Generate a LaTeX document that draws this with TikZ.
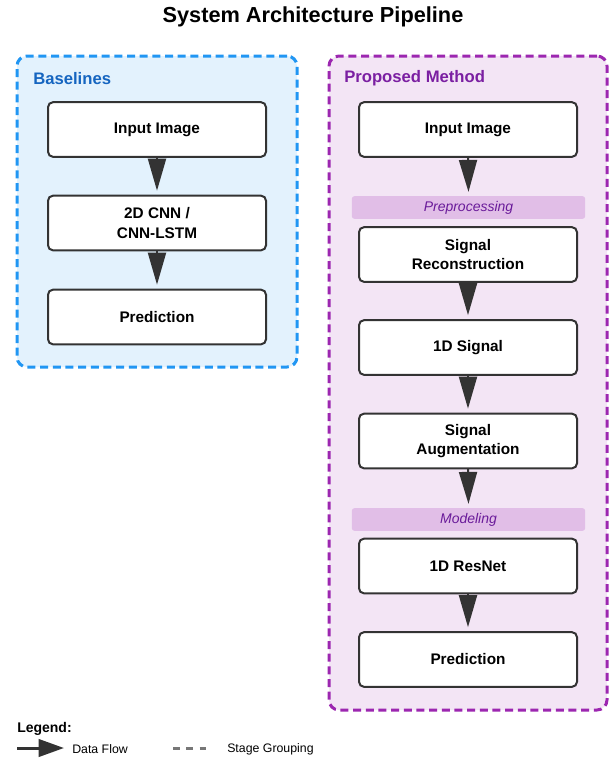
\documentclass[tikz,border=0pt]{standalone}
\usepackage{fontspec}
\setmainfont{Liberation Sans}
\usetikzlibrary{arrows.meta}
\definecolor{blueline}{HTML}{2196F3}
\definecolor{bluefill}{HTML}{E3F2FD}
\definecolor{bluetext}{HTML}{1565C0}
\definecolor{purpline}{HTML}{9C27B0}
\definecolor{purpfill}{HTML}{F3E5F5}
\definecolor{purptext}{HTML}{7B1FA2}
\definecolor{bandfill}{HTML}{E1BEE7}
\definecolor{bandtext}{HTML}{6A1B9A}
\definecolor{darkline}{HTML}{333333}
\definecolor{legendgray}{HTML}{777777}
\tikzset{
  grp/.style={draw, line width=2.25pt, dash pattern=on 6pt off 3.5pt, rounded corners=7.5pt, inner sep=0pt},
  grpblue/.style={grp, draw=blueline, fill=bluefill},
  grppurp/.style={grp, draw=purpline, fill=purpfill},
  grplabel/.style={anchor=west, font=\bfseries\fontsize{12.5pt}{14pt}\selectfont, inner sep=0pt},
  stepbox/.style={draw=darkline, fill=white, line width=1.5pt, rounded corners=3.75pt,
    minimum width=163.5pt, minimum height=41pt, align=center,
    font=\bfseries\fontsize{11.5pt}{14.5pt}\selectfont, inner sep=0pt},
  band/.style={fill=bandfill, rounded corners=2pt, minimum width=175pt, minimum height=17pt,
    inner sep=0pt, text=bandtext, font=\itshape\fontsize{10.5pt}{12pt}\selectfont},
  flow/.style={draw=darkline, line width=1.5pt, -{Triangle[length=24pt, width=13.5pt]}, shorten <=-0.5pt},
}
\begin{document}
\begin{tikzpicture}[x=0.75pt, y=-0.75pt]
\useasboundingbox (0,0) rectangle (608,758);
\node[font=\bfseries\fontsize{16.3pt}{19pt}\selectfont] (title) at (313,17) {System Architecture Pipeline};

% groups
\node[grpblue, minimum width=210pt, minimum height=233.25pt] (base) at (157,211.5) {};
\node[grplabel, text=bluetext] (baselab) at (33,78.5) {Baselines};
\node[grppurp, minimum width=208.5pt, minimum height=490.5pt] (prop) at (468,383) {};
\node[grplabel, text=purptext] (proplab) at (344,78.5) {Proposed Method};

% baselines
\node[stepbox] (b1) at (157,129.5) {Input Image};
\node[stepbox] (b2) at (157,223) {2D CNN /\\CNN-LSTM};
\node[stepbox] (b3) at (157,317) {Prediction};
\draw[flow] (b1.south) -- ([yshift=3pt]b2.north);
\draw[flow] (b2.south) -- ([yshift=3pt]b3.north);

% proposed
\node[stepbox] (p1) at (468,129.5) {Input Image};
\node[band] (pre) at (468.5,207.5) {Preprocessing};
\node[stepbox] (p2) at (468,254.5) {Signal\\Reconstruction};
\node[stepbox] (p3) at (468,347.5) {1D Signal};
\node[stepbox] (p4) at (468,441) {Signal\\Augmentation};
\node[band] (mod) at (468.5,519.5) {Modeling};
\node[stepbox] (p5) at (468,566) {1D ResNet};
\node[stepbox] (p6) at (468,659.5) {Prediction};
\draw[flow] (p1.south) -- ([yshift=3pt]pre.north);
\draw[flow] (p2.south) -- ([yshift=3pt]p3.north);
\draw[flow] (p3.south) -- ([yshift=3pt]p4.north);
\draw[flow] (p4.south) -- ([yshift=3pt]mod.north);
\draw[flow] (p5.south) -- ([yshift=3pt]p6.north);

% legend
\node[anchor=west, inner sep=0pt, font=\bfseries\fontsize{10.5pt}{12pt}\selectfont] (leg) at (17,729) {Legend:};
\coordinate (la) at (17,748);
\coordinate (lb) at (64,748);
\draw[draw=darkline, line width=2.25pt, -{Triangle[length=19pt, width=13pt]}] (la) -- (lb);
\node[anchor=west, inner sep=0pt, font=\fontsize{9.25pt}{11pt}\selectfont] (ldf) at (72,749) {Data Flow};
\coordinate (lc) at (173,748);
\coordinate (ld) at (212,748);
\draw[draw=legendgray, line width=2.25pt, dash pattern=on 5pt off 5pt] (lc) -- (ld);
\node[anchor=west, inner sep=0pt, font=\fontsize{9.25pt}{11pt}\selectfont] (lsg) at (227,749) {Stage Grouping};
\end{tikzpicture}
\end{document}
